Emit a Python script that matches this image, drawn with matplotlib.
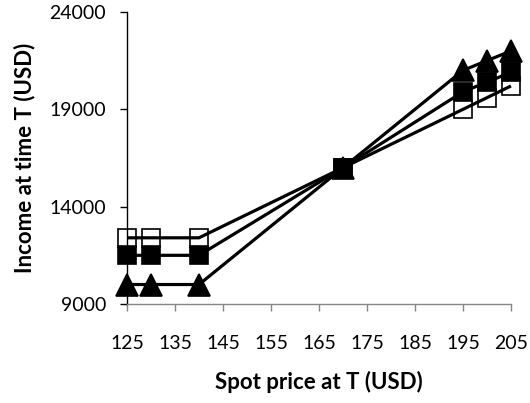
import matplotlib
matplotlib.use("Agg")
import matplotlib.pyplot as plt

plt.rcParams["font.family"] = ["Lato", "DejaVu Sans"]

spot = [125, 130, 140, 170, 195, 200, 205]
income_open = [12400, 12400, 12400, 16000, 19000, 19600, 20200]
income_filled = [11500, 11500, 11500, 16000, 19900, 20400, 20900]
income_tri = [10000, 10000, 10000, 16000, 21000, 21500, 22000]

x_ticks = [125, 135, 145, 155, 165, 175, 185, 195, 205]
y_ticks = [9000, 14000, 19000, 24000]

fig = plt.figure(figsize=(5.3, 4.03), dpi=100)
ax = fig.add_axes([0.2396, 0.2457, 0.7245, 0.7245])

series = [
    (income_open, "s", "white", 13.5, 2),
    (income_tri, "^", "black", 15.5, 4),
    (income_filled, "s", "black", 13.5, 6),
]
for y, marker, face, ms, z in series:
    ax.plot(spot, y, ls="none", marker=marker, ms=ms, mfc=face, mec="black",
            mew=1.2, zorder=z, clip_on=False)
    ax.plot(spot, y, color="black", lw=2.3, zorder=z + 0.5, clip_on=False,
            solid_capstyle="butt")

ax.set_xlim(125, 205)
ax.set_ylim(9000, 24000)
ax.set_xticks(x_ticks)
ax.set_yticks(y_ticks)
for s in ["top", "right"]:
    ax.spines[s].set_visible(False)
ax.spines["left"].set_color("black")
ax.spines["left"].set_linewidth(1.0)
ax.spines["bottom"].set_color("#868686")
ax.spines["bottom"].set_linewidth(1.0)
ax.tick_params(axis="x", direction="out", length=5, width=1.0, color="#868686",
               pad=17, labelsize=14)
ax.tick_params(axis="y", direction="out", length=5, width=1.0, color="black",
               pad=10, labelsize=14)

ax.set_xlabel("Spot price at T (USD)", fontsize=16, fontweight="bold", labelpad=14)
ax.set_ylabel("Income at time T (USD)", fontsize=16, fontweight="bold", labelpad=10)

fig.savefig("out.png", dpi=100)
